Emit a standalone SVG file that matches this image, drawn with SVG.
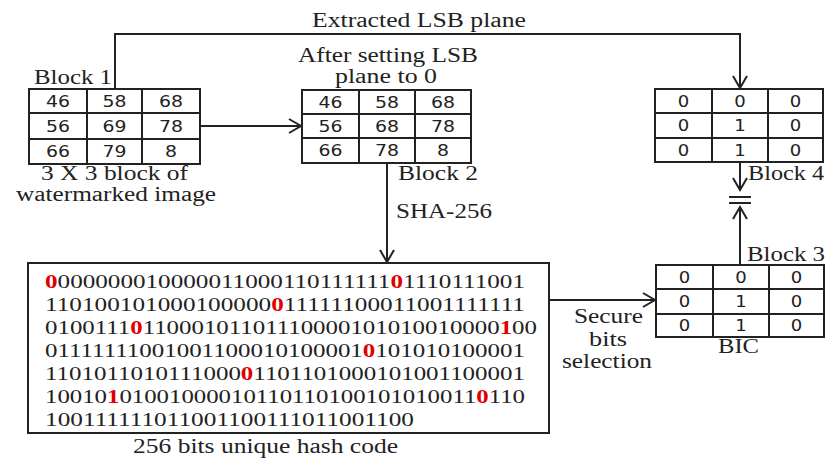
<svg xmlns="http://www.w3.org/2000/svg" width="827" height="462" viewBox="0 0 827 462">
<style>
.bg{fill:#fff}
.tb{fill:none;stroke:#222;stroke-width:2}
.ln{fill:none;stroke:#222;stroke-width:2}
.con{fill:none;stroke:#222;stroke-width:2}
.lbl{font-family:"Liberation Serif","Times New Roman",serif;font-size:20px;fill:#222}
.cell{font-family:"DejaVu Sans",Verdana,sans-serif;font-size:15.5px;fill:#222;text-anchor:middle}
.hash{font-family:"Liberation Serif","Times New Roman",serif;font-size:19px;fill:#222}
.red{fill:#e00000;font-weight:bold}
</style>
<defs>
<marker id="arr" markerUnits="userSpaceOnUse" markerWidth="16" markerHeight="18" refX="13" refY="8" orient="auto" viewBox="0 0 16 16">
<path d="M1,1 L13,8 L1,15" fill="none" stroke="#222" stroke-width="2"/>
</marker>
</defs>
<rect class="bg" x="0" y="0" width="827" height="462"/>

<g id="connectors">
<path class="con" d="M115,89 V34 H740 V88" marker-end="url(#arr)"/>
<path class="con" d="M200,126 H301" marker-end="url(#arr)"/>
<path class="con" d="M387,163 V262" marker-end="url(#arr)"/>
<path class="con" d="M549,300 H655" marker-end="url(#arr)"/>
<path class="con" d="M740,162 V190" marker-end="url(#arr)"/>
<path class="con" d="M740,265 V207" marker-end="url(#arr)"/>
<path class="con" d="M729,197 H751 M729,203 H751"/>
<text class="lbl" x="312" y="27" textLength="214" lengthAdjust="spacingAndGlyphs">Extracted LSB plane</text>
<text class="lbl" x="396" y="218" textLength="96" lengthAdjust="spacingAndGlyphs">SHA-256</text>
<text class="lbl" x="574" y="323" textLength="69" lengthAdjust="spacingAndGlyphs">Secure</text>
<text class="lbl" x="589" y="346" textLength="38" lengthAdjust="spacingAndGlyphs">bits</text>
<text class="lbl" x="562" y="368" textLength="90" lengthAdjust="spacingAndGlyphs">selection</text>
</g>

<g id="block1">
<rect class="tb" x="29" y="89" width="171" height="75"/>
<path class="ln" d="M87,89 V164 M142,89 V164 M29,113 H200 M29,139 H200"/>
<text class="cell" x="58" y="107" textLength="24" lengthAdjust="spacingAndGlyphs">46</text>
<text class="cell" x="114.5" y="107" textLength="24" lengthAdjust="spacingAndGlyphs">58</text>
<text class="cell" x="171" y="107" textLength="24" lengthAdjust="spacingAndGlyphs">68</text>
<text class="cell" x="58" y="132" textLength="24" lengthAdjust="spacingAndGlyphs">56</text>
<text class="cell" x="114.5" y="132" textLength="24" lengthAdjust="spacingAndGlyphs">69</text>
<text class="cell" x="171" y="132" textLength="24" lengthAdjust="spacingAndGlyphs">78</text>
<text class="cell" x="58" y="157" textLength="24" lengthAdjust="spacingAndGlyphs">66</text>
<text class="cell" x="114.5" y="157" textLength="24" lengthAdjust="spacingAndGlyphs">79</text>
<text class="cell" x="171" y="157" textLength="12" lengthAdjust="spacingAndGlyphs">8</text>
<text class="lbl" x="34" y="84" textLength="78" lengthAdjust="spacingAndGlyphs">Block 1</text>
<text class="lbl" x="41" y="180" textLength="147" lengthAdjust="spacingAndGlyphs">3 X 3 block of</text>
<text class="lbl" x="16" y="201" textLength="200" lengthAdjust="spacingAndGlyphs">watermarked image</text>
</g>

<g id="block2">
<rect class="tb" x="302" y="90" width="169" height="73"/>
<path class="ln" d="M359,90 V163 M415,90 V163 M302,114 H471 M302,138 H471"/>
<text class="cell" x="330.5" y="107.5" textLength="24" lengthAdjust="spacingAndGlyphs">46</text>
<text class="cell" x="387" y="107.5" textLength="24" lengthAdjust="spacingAndGlyphs">58</text>
<text class="cell" x="443" y="107.5" textLength="24" lengthAdjust="spacingAndGlyphs">68</text>
<text class="cell" x="330.5" y="131.5" textLength="24" lengthAdjust="spacingAndGlyphs">56</text>
<text class="cell" x="387" y="131.5" textLength="24" lengthAdjust="spacingAndGlyphs">68</text>
<text class="cell" x="443" y="131.5" textLength="24" lengthAdjust="spacingAndGlyphs">78</text>
<text class="cell" x="330.5" y="156" textLength="24" lengthAdjust="spacingAndGlyphs">66</text>
<text class="cell" x="387" y="156" textLength="24" lengthAdjust="spacingAndGlyphs">78</text>
<text class="cell" x="443" y="156" textLength="12" lengthAdjust="spacingAndGlyphs">8</text>
<text class="lbl" x="298" y="62" textLength="180" lengthAdjust="spacingAndGlyphs">After setting LSB</text>
<text class="lbl" x="335" y="83" textLength="102" lengthAdjust="spacingAndGlyphs">plane to 0</text>
<text class="lbl" x="398" y="180" textLength="80" lengthAdjust="spacingAndGlyphs">Block 2</text>
</g>

<g id="block4">
<rect class="tb" x="655" y="89" width="168" height="73"/>
<path class="ln" d="M712,89 V162 M768,89 V162 M655,113 H823 M655,138 H823"/>
<text class="cell" x="683.5" y="106.5" textLength="11.5" lengthAdjust="spacingAndGlyphs">0</text>
<text class="cell" x="740" y="106.5" textLength="11.5" lengthAdjust="spacingAndGlyphs">0</text>
<text class="cell" x="795.5" y="106.5" textLength="11.5" lengthAdjust="spacingAndGlyphs">0</text>
<text class="cell" x="683.5" y="131" textLength="11.5" lengthAdjust="spacingAndGlyphs">0</text>
<text class="cell" x="740" y="131" textLength="11.5" lengthAdjust="spacingAndGlyphs">1</text>
<text class="cell" x="795.5" y="131" textLength="11.5" lengthAdjust="spacingAndGlyphs">0</text>
<text class="cell" x="683.5" y="155.5" textLength="11.5" lengthAdjust="spacingAndGlyphs">0</text>
<text class="cell" x="740" y="155.5" textLength="11.5" lengthAdjust="spacingAndGlyphs">1</text>
<text class="cell" x="795.5" y="155.5" textLength="11.5" lengthAdjust="spacingAndGlyphs">0</text>
<text class="lbl" x="748" y="180" textLength="76" lengthAdjust="spacingAndGlyphs">Block 4</text>
</g>

<g id="block3">
<rect class="tb" x="656" y="265" width="168" height="72"/>
<path class="ln" d="M713,265 V337 M769,265 V337 M656,289 H824 M656,314 H824"/>
<text class="cell" x="684.5" y="282.5" textLength="11.5" lengthAdjust="spacingAndGlyphs">0</text>
<text class="cell" x="741" y="282.5" textLength="11.5" lengthAdjust="spacingAndGlyphs">0</text>
<text class="cell" x="796.5" y="282.5" textLength="11.5" lengthAdjust="spacingAndGlyphs">0</text>
<text class="cell" x="684.5" y="307" textLength="11.5" lengthAdjust="spacingAndGlyphs">0</text>
<text class="cell" x="741" y="307" textLength="11.5" lengthAdjust="spacingAndGlyphs">1</text>
<text class="cell" x="796.5" y="307" textLength="11.5" lengthAdjust="spacingAndGlyphs">0</text>
<text class="cell" x="684.5" y="331" textLength="11.5" lengthAdjust="spacingAndGlyphs">0</text>
<text class="cell" x="741" y="331" textLength="11.5" lengthAdjust="spacingAndGlyphs">1</text>
<text class="cell" x="796.5" y="331" textLength="11.5" lengthAdjust="spacingAndGlyphs">0</text>
<text class="lbl" x="747" y="261" textLength="78" lengthAdjust="spacingAndGlyphs">Block 3</text>
<text class="lbl" x="718" y="353" textLength="41" lengthAdjust="spacingAndGlyphs">BIC</text>
</g>

<g id="hash">
<rect class="tb" x="28" y="263" width="521" height="170"/>
<text class="hash" x="45" y="288" textLength="480" lengthAdjust="spacingAndGlyphs"><tspan class="red">0</tspan>000000010000011000110111111<tspan class="red">0</tspan>1110111001</text>
<text class="hash" x="45" y="311" textLength="480" lengthAdjust="spacingAndGlyphs">110100101000100000<tspan class="red">0</tspan>11111100011001111111</text>
<text class="hash" x="45" y="334" textLength="492" lengthAdjust="spacingAndGlyphs">0100111<tspan class="red">0</tspan>11000101101110000101010010000<tspan class="red">1</tspan>00</text>
<text class="hash" x="45" y="357" textLength="480" lengthAdjust="spacingAndGlyphs">01111111001001100010100001<tspan class="red">0</tspan>101010100001</text>
<text class="hash" x="45" y="380" textLength="480" lengthAdjust="spacingAndGlyphs">1101011010111000<tspan class="red">0</tspan>1101101000101001100001</text>
<text class="hash" x="45" y="403" textLength="480" lengthAdjust="spacingAndGlyphs">10010<tspan class="red">1</tspan>01001000010110110100101010011<tspan class="red">0</tspan>110</text>
<text class="hash" x="45" y="426" textLength="369" lengthAdjust="spacingAndGlyphs">100111111011001100111011001100</text>
<text class="lbl" x="133" y="453" textLength="265" lengthAdjust="spacingAndGlyphs">256 bits unique hash code</text>
</g>
</svg>
